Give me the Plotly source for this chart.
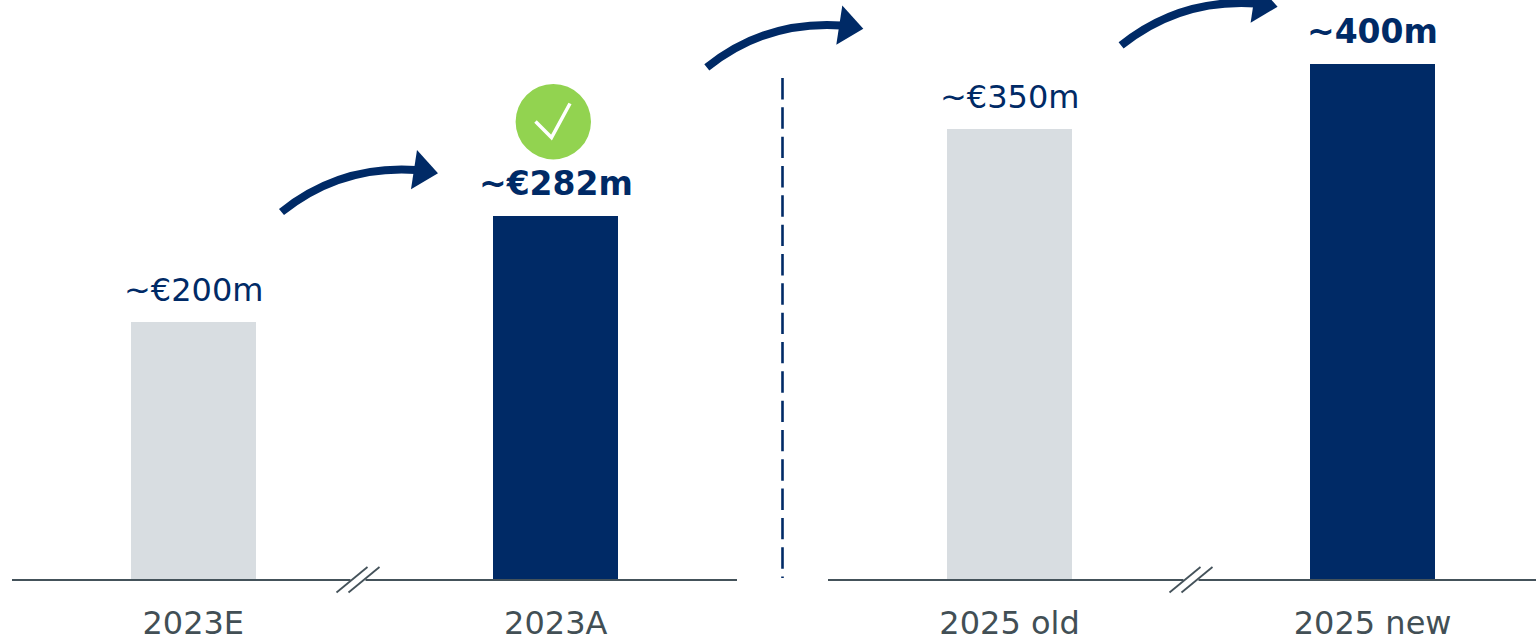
import plotly.graph_objects as go

W, H = 1536, 641
categories_left = ["2023E", "2023A"]
values_left = [200, 282]
labels_left = ["~€200m", "<b>~€282m</b>"]
categories_right = ["2025 old", "2025 new"]
values_right = [350, 400]
labels_right = ["~€350m", "<b>~400m</b>"]

NAVY = "#002a66"
GREY = "#d8dde1"
AXIS = "#44525a"
TICK = "#424f55"
GREEN = "#92d350"
FONT = "DejaVu Sans"


def px(x):
    return x / W


def py(y):
    return 1 - y / H


def path(cmds):
    out = []
    for c in cmds:
        if isinstance(c, str):
            out.append(c)
        else:
            out.append(f"{px(c[0]):.5f},{py(c[1]):.5f}")
    return " ".join(out)


shapes = []


def arrow(dx, dy):
    shapes.append(dict(type="path", xref="paper", yref="paper", layer="above",
                       path=path(["M", (281.5 + dx, 212 + dy), "Q", (340 + dx, 165 + dy), (416 + dx, 170 + dy)]),
                       line=dict(color=NAVY, width=8), fillcolor="rgba(0,0,0,0)"))
    shapes.append(dict(type="path", xref="paper", yref="paper", layer="above",
                       path=path(["M", (417 + dx, 150 + dy), "L", (438 + dx, 173.3 + dy), "L", (411 + dx, 189.3 + dy), "Z"]),
                       line=dict(width=0), fillcolor=NAVY))


arrow(0, 0)
arrow(425.3, -144.6)
arrow(839.6, -166.6)

# axis baselines
for x0, x1 in ((12, 737), (828, 1536)):
    shapes.append(dict(type="line", xref="paper", yref="paper", layer="above",
                       x0=px(x0), x1=px(x1), y0=py(580), y1=py(580),
                       line=dict(color=AXIS, width=2)))


def axis_break(x0):
    # white gap in the axis between the two slashes, then the slashes
    shapes.append(dict(type="line", xref="paper", yref="paper", layer="above",
                       x0=px(x0 + 14), x1=px(x0 + 29), y0=py(580), y1=py(580),
                       line=dict(color="white", width=4)))
    for off in (0, 12):
        shapes.append(dict(type="line", xref="paper", yref="paper", layer="above",
                           x0=px(x0 + off), y0=py(592.5), x1=px(x0 + off + 31), y1=py(567),
                           line=dict(color=AXIS, width=1.8)))


axis_break(336.5)
axis_break(1169.5)

# divider
shapes.append(dict(type="line", xref="paper", yref="paper", layer="above",
                   x0=px(782.5), x1=px(782.5), y0=py(78), y1=py(578),
                   line=dict(color=NAVY, width=2.6, dash="21.4px,7.93px")))

# check badge
shapes.append(dict(type="circle", xref="paper", yref="paper", layer="above",
                   x0=px(553.3 - 37.7), x1=px(553.3 + 37.7), y0=py(121.7 - 37.7), y1=py(121.7 + 37.7),
                   line=dict(width=0), fillcolor=GREEN))
shapes.append(dict(type="path", xref="paper", yref="paper", layer="above",
                   path=path(["M", (535.5, 121.5), "L", (551.5, 137.5), "L", (570, 103.5)]),
                   line=dict(color="white", width=3.5), fillcolor="rgba(0,0,0,0)"))

fig = go.Figure()
fig.add_bar(x=categories_left, y=values_left, xaxis="x", yaxis="y", width=0.3445,
            marker=dict(color=[GREY, NAVY], line=dict(width=0)), showlegend=False)
fig.add_bar(x=categories_right, y=values_right, xaxis="x2", yaxis="y", width=0.3445,
            marker=dict(color=[GREY, NAVY], line=dict(width=0)), showlegend=False)

annotations = []
for xref, cats, vals, labs in (("x", categories_left, values_left, labels_left),
                               ("x2", categories_right, values_right, labels_right)):
    for c, v, t in zip(cats, vals, labs):
        bold = "<b>" in t
        annotations.append(dict(x=c, y=v, xref=xref, yref="y", text=t, showarrow=False,
                                yanchor="bottom", yshift=11,
                                font=dict(family=FONT, size=33 if bold else 32, color=NAVY)))

axis_common = dict(type="category", showgrid=False, zeroline=False, showline=False,
                   ticks="", ticklabelstandoff=21,
                   tickfont=dict(family=FONT, size=32, color=TICK), anchor="y")

fig.update_layout(
    width=W, height=H, margin=dict(l=0, r=0, t=0, b=0, pad=0, autoexpand=False),
    paper_bgcolor="white", plot_bgcolor="white", bargap=0,
    xaxis=dict(domain=[12 / W, 737 / W], range=[-0.5, 1.5], **axis_common),
    xaxis2=dict(domain=[828 / W, 1], range=[-0.5, 1.45], **axis_common),
    yaxis=dict(domain=[(H - 580) / H, 1], range=[0, 580 / 1.29], visible=False, fixedrange=True),
    shapes=shapes, annotations=annotations,
)

fig.write_html("out.html", post_script="document.body.style.margin='0';document.documentElement.style.overflow='hidden';",
               config=dict(displayModeBar=False))
